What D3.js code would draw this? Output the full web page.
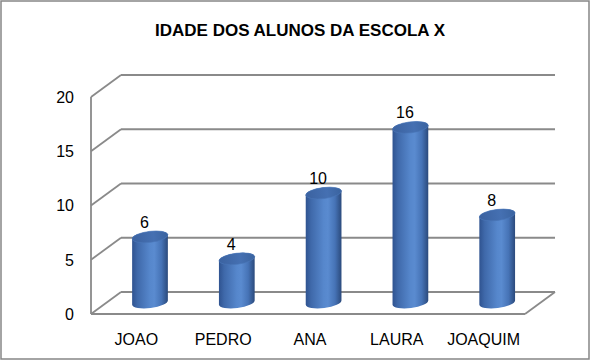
<!DOCTYPE html>
<html><head><meta charset="utf-8">
<script src="https://cdn.jsdelivr.net/npm/d3@7"></script>
<style>body{margin:0;background:#fff}svg{display:block}</style>
</head><body>
<svg id="c" width="591" height="361"></svg>
<script>
const title = "IDADE DOS ALUNOS DA ESCOLA X";
const categories = ["JOAO", "PEDRO", "ANA", "LAURA", "JOAQUIM"];
const values = [6, 4, 10, 16, 8];
const yTicks = [0, 5, 10, 15, 20];

const svg = d3.select("#c");
const font = "'Liberation Sans', Arial, sans-serif";
const gridColor = "#8a8a8a";

// plot geometry (front plane)
const plotLeft = 91, plotRight = 525, plotBottom = 314, plotTop = 97;
const depthX = 30, depthY = -22;
const barDepth = 0.52;

const x = d3.scaleBand().domain(categories).range([plotLeft, plotRight]);
const y = d3.scaleLinear().domain([0, 20]).range([plotBottom, plotTop]);

// border
svg.append("rect").attr("x", 1).attr("y", 1).attr("width", 588).attr("height", 358)
  .attr("fill", "#fff").attr("stroke", "#868686").attr("stroke-width", 1.5);

// title
svg.append("text").attr("x", 300).attr("y", 36).attr("text-anchor", "middle")
  .attr("font-family", font).attr("font-weight", "bold").attr("font-size", 17)
  .attr("fill", "#000").text(title);

const g = svg.append("g");
yTicks.forEach(t => {
  const yf = y(t);
  g.append("line").attr("x1", plotLeft + depthX).attr("x2", plotRight + depthX)
    .attr("y1", yf + depthY).attr("y2", yf + depthY)
    .attr("stroke", gridColor).attr("stroke-width", 1.8);
  g.append("line").attr("x1", plotLeft).attr("x2", plotLeft + depthX)
    .attr("y1", yf).attr("y2", yf + depthY)
    .attr("stroke", gridColor).attr("stroke-width", 1.8);
});
g.append("line").attr("x1", plotLeft).attr("x2", plotLeft).attr("y1", y(20)).attr("y2", y(0))
  .attr("stroke", gridColor).attr("stroke-width", 1.8);
g.append("line").attr("x1", plotLeft).attr("x2", plotRight).attr("y1", y(0)).attr("y2", y(0))
  .attr("stroke", gridColor).attr("stroke-width", 1.8);
g.append("line").attr("x1", plotRight).attr("x2", plotRight + depthX).attr("y1", y(0)).attr("y2", y(0) + depthY)
  .attr("stroke", gridColor).attr("stroke-width", 1.8);

svg.selectAll(".yt").data(yTicks).enter().append("text")
  .attr("x", 74).attr("y", d => y(d)).attr("dy", "0.36em")
  .attr("text-anchor", "end").attr("font-family", font).attr("font-size", 16)
  .attr("fill", "#000").text(d => d);

svg.selectAll(".xt").data(categories).enter().append("text")
  .attr("x", d => x(d) + x.bandwidth() / 2 + 2).attr("y", 345)
  .attr("text-anchor", "middle").attr("font-family", font).attr("font-size", 16)
  .attr("fill", "#000").text(d => d);

const defs = svg.append("defs");
const bodyGrad = defs.append("linearGradient").attr("id", "body").attr("x1", 0).attr("x2", 1).attr("y1", 0).attr("y2", 0);
[[0, "#2f5390"], [0.15, "#3f69aa"], [0.5, "#5687cc"], [0.62, "#5a8bd0"], [0.82, "#4673b6"], [1, "#2b4a7c"]]
  .forEach(([o, c]) => bodyGrad.append("stop").attr("offset", o).attr("stop-color", c));
const topGrad = defs.append("linearGradient").attr("id", "topg").attr("x1", 0).attr("x2", 1).attr("y1", 0).attr("y2", 0);
[[0, "#3b62a0"], [0.6, "#4570b2"], [1, "#3a639f"]]
  .forEach(([o, c]) => topGrad.append("stop").attr("offset", o).attr("stop-color", c));

const rx = 18, ry = 5.5, rot = -7;
const th = rot * Math.PI / 180;
const ex = rx * Math.cos(th), ey = rx * Math.sin(th);
const ox = depthX * barDepth, oy = depthY * barDepth;
const yBar = d3.scaleLinear().domain([0, 20]).range([plotBottom + oy, plotTop + oy - 2]);

const bars = svg.append("g");
categories.forEach((c, i) => {
  const cx = x(c) + x.bandwidth() / 2 + ox;
  const yb = yBar(0), yt = yBar(values[i]);
  // left endpoint of major axis: (cx-ex, cy-ey); right: (cx+ex, cy+ey)
  const p = `M${cx - ex},${yt - ey} L${cx - ex},${yb - ey} A${rx},${ry} ${rot} 0 0 ${cx + ex},${yb + ey} L${cx + ex},${yt + ey} A${rx},${ry} ${rot} 0 0 ${cx - ex},${yt - ey} Z`;
  bars.append("path").attr("d", p).attr("fill", "url(#body)");
  bars.append("ellipse").attr("cx", cx).attr("cy", yt).attr("rx", rx).attr("ry", ry)
    .attr("transform", `rotate(${rot},${cx},${yt})`).attr("fill", "url(#topg)")
    .attr("stroke", "#4a76b8").attr("stroke-width", 0.6);
  svg.append("text").attr("x", cx - 5.5).attr("y", yt - 9).attr("text-anchor", "middle")
    .attr("font-family", font).attr("font-size", 16).attr("fill", "#000").text(values[i]);
});
</script>
</body></html>
